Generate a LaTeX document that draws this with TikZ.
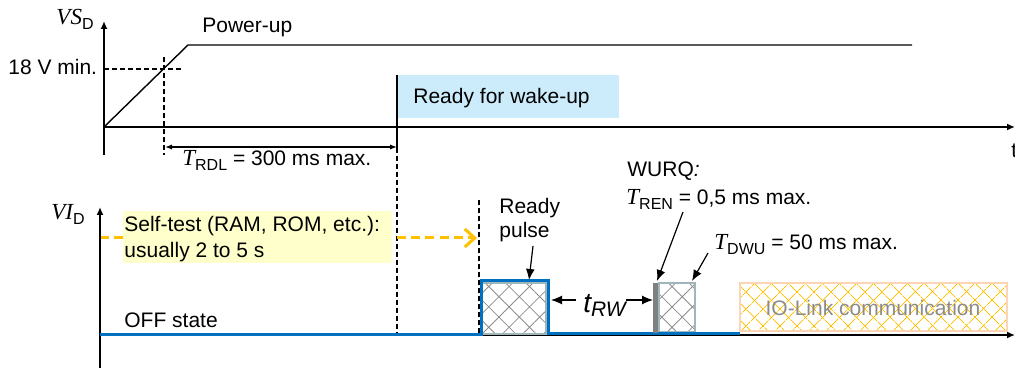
\documentclass[tikz,border=0pt]{standalone}
\usepackage{fontspec}
\setmainfont{Liberation Sans}
\newfontfamily\tms{Liberation Serif}
\usetikzlibrary{arrows.meta,patterns.meta}
\definecolor{sigblue}{HTML}{0070C0}
\definecolor{ltblue}{HTML}{CCECFC}
\definecolor{ltyellow}{HTML}{FFFFCC}
\definecolor{amber}{HTML}{FFC000}
\definecolor{hatchgray}{HTML}{8C8C8C}
\definecolor{boxedge}{HTML}{9FB6BA}
\definecolor{ioedge}{HTML}{FCD5B4}
\newcommand\sbs[1]{\raisebox{-0.45ex}{\fontsize{8}{9}\selectfont #1}}
\newcommand\vari[1]{{\tms\itshape #1}}
\newcommand\varb[1]{{\tms\itshape\fontsize{11.5}{13}\selectfont #1}}
\tikzset{
  axis/.style={line width=0.8pt,-{Latex[length=4pt,width=3.5pt]}},
  plain/.style={line width=0.7pt},
  dsh/.style={line width=0.6pt,dash pattern=on 2.4pt off 1.6pt},
  sig/.style={line width=1.5pt,sigblue},
  ptr/.style={line width=0.6pt,-{Latex[length=5.5pt,width=4.5pt]}},
  dim/.style={line width=0.6pt,{Latex[length=3.5pt,width=2.6pt]}-{Latex[length=3.5pt,width=2.6pt]}},
  lbl/.style={inner sep=0pt},
  hatchA/.style={pattern={Lines[angle=45,distance=7.2pt,line width=0.4pt]},pattern color=hatchgray},
  hatchB/.style={pattern={Lines[angle=-45,distance=7.2pt,line width=0.4pt]},pattern color=hatchgray},
  iohA/.style={pattern={Lines[angle=45,distance=6.5pt,line width=0.5pt]},pattern color=amber},
  iohB/.style={pattern={Lines[angle=-45,distance=6.5pt,line width=0.5pt]},pattern color=amber},
}
\begin{document}
\begin{tikzpicture}[x=0.5pt,y=-0.5pt,font=\fontsize{10.5}{12.6}\selectfont]
\useasboundingbox (0,0) rectangle (1015,368);
\clip (0,0) rectangle (1015,368);

% ---------- top chart ----------
\coordinate (vsBot) at (104,155);
\coordinate (vsTop) at (104,21);
\coordinate (o1) at (104,127);
\coordinate (t1End) at (1015,127);
\coordinate (rampTop) at (188,45);
\coordinate (pwEnd) at (912,45);
\coordinate (th18) at (104,69);
\coordinate (th18e) at (183,69);
\coordinate (rdlA) at (164,57);
\coordinate (rdlB) at (164,155);
\coordinate (rdyTop) at (397,75);
\coordinate (rdyMid) at (397,148);
\coordinate (rdyBot) at (397,335);

\fill[ltblue] (397,75) rectangle (619,118);
\node[lbl,anchor=base west] (rfw) at (413,104) {Ready for wake-up};

\draw[axis] (vsBot) -- (vsTop);
\draw[axis] (o1) -- (t1End);
\draw[plain] (o1) -- (rampTop) -- (pwEnd);
\draw[dsh] (th18) -- (th18e);
\draw[dsh] (rdlA) -- (rdlB);
\draw[line width=0.6pt] (rdyTop) -- (rdyMid);
\draw[dsh] (rdyMid) -- (rdyBot);

\node[lbl,anchor=base east] (vsd) at (94,25) {\varb{VS}\sbs{D}};
\node[lbl,anchor=base west] (pwr) at (202,33) {Power-up};
\node[lbl,anchor=base west] (v18) at (8,75) {18 V min.};
\node[lbl,anchor=base west] (tlab) at (1011,158) {t};

\coordinate (rdlL) at (165,147);
\coordinate (rdlR) at (397,147);
\draw[dim] (rdlL) -- (rdlR);
\node[lbl,anchor=base west] (trdl) at (182,166) {\varb{T}\sbs{RDL} = 300 ms max.};

% ---------- bottom chart ----------
\coordinate (viBot) at (100,368);
\coordinate (viTop) at (100,207);
\coordinate (o2) at (100,335);
\coordinate (t2End) at (1015,335);

\fill[ltyellow] (123,211) rectangle (392,263);
\node[lbl,anchor=base west] (st1) at (124,232) {Self-test (RAM, ROM, etc.):};
\node[lbl,anchor=base west] (st2) at (124,257) {usually 2 to 5 s};

\coordinate (orA) at (100,238);
\coordinate (orB) at (123,238);
\coordinate (orC) at (397,238);
\coordinate (orD) at (477,238);
\draw[amber,line width=1.5pt,dash pattern=on 4.5pt off 2.6pt] (orA) -- (orB);
\draw[amber,line width=1.5pt,dash pattern=on 4.5pt off 2.6pt,-{Straight Barb[length=5pt,width=9pt]}] (orC) -- (orD);

\draw[axis] (viBot) -- (viTop);
\draw[axis] (o2) -- (t2End);

\node[lbl,anchor=base east] (vid) at (85,220) {\varb{VI}\sbs{D}};
\node[lbl,anchor=base west] (off) at (124,327) {OFF state};

\coordinate (rpA) at (479,200);
\coordinate (rpB) at (479,335);
\draw[dsh] (rpA) -- (rpB);

% ready pulse hatch box
\path[hatchA] (482,283) rectangle (546,334);
\path[hatchB] (482,283) rectangle (546,334);
\draw[boxedge,line width=0.8pt] (482,283) rectangle (546,334);
\coordinate (pulseE) at (551,300);

% DWU hatch box
\path[hatchA] (659,283) rectangle (695,332);
\path[hatchB] (659,283) rectangle (695,332);
\draw[boxedge,line width=0.8pt] (659,283) rectangle (695,332);

% IO-Link box
\fill[white] (740,283) rectangle (1007,331);
\path[iohA] (740,283) rectangle (1007,331);
\path[iohB] (740,283) rectangle (1007,331);
\draw[ioedge,line width=0.8pt] (740,283) rectangle (1007,331);
\node[lbl,anchor=base,text=hatchgray] (iol) at (873,315) {IO-Link communication};

% blue signal
\coordinate (s0) at (100,334);
\coordinate (s1) at (481,334);
\coordinate (s2) at (481,281);
\coordinate (s3) at (548,281);
\coordinate (s4) at (548,333);
\coordinate (s5) at (740,333);
\draw[sig] (s0) -- (s1) -- (s2) -- (s3) -- (s4) -- (s5);

% WURQ bar
\fill[gray] (653,283) rectangle (658,333);
\coordinate (wurqW) at (653,300);

% labels
\node[lbl,anchor=base west] (rdy1) at (499,214) {Ready};
\node[lbl,anchor=base west] (rdy2) at (499,238) {pulse};
\coordinate (rpArrA) at (533,246);
\coordinate (rpArrB) at (529,280);
\draw[ptr] (rpArrA) -- (rpArrB);

\node[lbl,anchor=base west] (trw) at (583,312) {{\fontsize{14}{16}\selectfont\itshape t}\raisebox{-0.45ex}{\itshape RW}};
\coordinate (trwL) at (576,300);
\coordinate (trwR) at (626,300);
\draw[ptr] (trwL) -- (pulseE);
\draw[ptr] (trwR) -- (wurqW);

\node[lbl,anchor=base west] (wurq) at (627,177) {WURQ\textit{:}};
\node[lbl,anchor=base west] (tren) at (626,205) {\varb{T}\sbs{REN} = 0,5 ms max.};
\coordinate (trenA) at (683,212);
\coordinate (trenB) at (657,281);
\draw[ptr] (trenA) -- (trenB);

\node[lbl,anchor=base west] (tdwu) at (714,250) {\varb{T}\sbs{DWU} = 50 ms max.};
\coordinate (tdwuA) at (708,253);
\coordinate (tdwuB) at (692,281);
\draw[ptr] (tdwuA) -- (tdwuB);
\end{tikzpicture}
\end{document}
